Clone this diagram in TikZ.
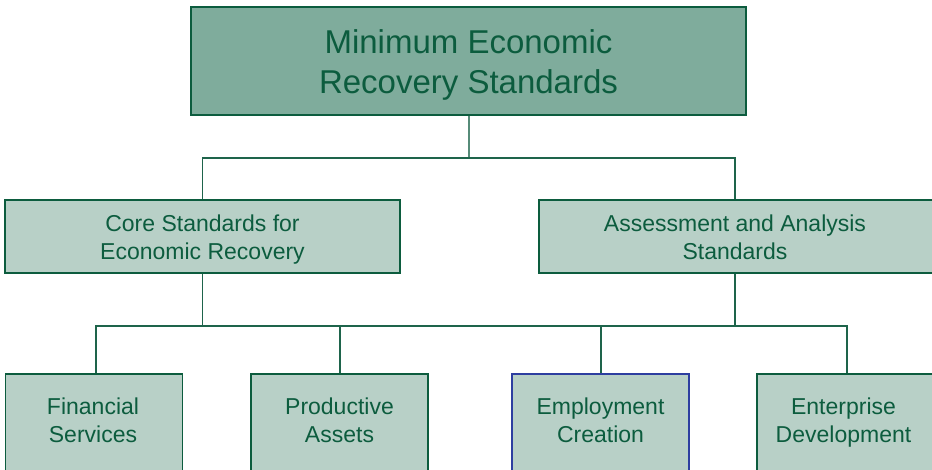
\documentclass[tikz,border=0pt]{standalone}
\usepackage{fontspec}
\setmainfont{Liberation Sans}
\definecolor{dkgreen}{RGB}{12,92,62}
\definecolor{linegreen}{RGB}{30,100,75}
\definecolor{topfill}{RGB}{127,172,156}
\definecolor{boxfill}{RGB}{184,208,199}
\definecolor{bluebord}{RGB}{45,62,160}
\begin{document}
\begin{tikzpicture}[x=1pt,y=-1pt,
  topbox/.style={draw=dkgreen,line width=1.8pt,fill=topfill,
    minimum width=555pt,minimum height=108pt,inner sep=0pt},
  midbox/.style={draw=dkgreen,line width=1.3pt,fill=boxfill,
    minimum height=73pt,inner sep=0pt},
  lowbox/.style={draw=dkgreen,line width=1.3pt,fill=boxfill,
    minimum width=177pt,minimum height=100pt,inner sep=0pt},
  bigtxt/.style={text=dkgreen,inner sep=0pt,align=center,
    font=\fontsize{33}{40}\selectfont,
    execute at begin node=\vphantom{lp},execute at end node=\vphantom{lp}},
  smalltxt/.style={text=dkgreen,inner sep=0pt,align=center,
    font=\fontsize{23}{28}\selectfont,
    execute at begin node=\vphantom{lp},execute at end node=\vphantom{lp}},
  conn/.style={draw=linegreen,line width=1.2pt}]
\useasboundingbox (0,0) rectangle (932,469);
\clip (0,0) rectangle (932,469);
% boxes
\node[topbox] (top) at (468.5,61) {};
\node[midbox,minimum width=395pt] (core) at (202.5,236.5) {};
\node[midbox,minimum width=400pt] (assess) at (739,236.5) {};
\node[lowbox] (fin) at (94,424) {};
\node[lowbox] (prod) at (339.5,424) {};
\node[lowbox,draw=bluebord] (emp) at (600.5,424) {};
\node[lowbox,minimum width=180pt] (ent) at (847,424) {};
% texts
\node[bigtxt] (toptxt) at ([yshift=-3.5pt]top.center) {Minimum Economic\\Recovery Standards};
\node[smalltxt] (coretxt) at ([yshift=-2.7pt]core.center) {Core Standards for\\Economic Recovery};
\node[smalltxt] (assesstxt) at ([xshift=-4pt,yshift=-2.7pt]assess.center) {Assessment and Analysis\\Standards};
\node[smalltxt] (fintxt) at ([xshift=-1pt,yshift=1pt]fin.center) {Financial\\Services};
\node[smalltxt] (prodtxt) at ([yshift=1pt]prod.center) {Productive\\Assets};
\node[smalltxt] (emptxt) at ([yshift=1pt]emp.center) {Employment\\Creation};
\node[smalltxt] (enttxt) at ([xshift=-3.5pt,yshift=1pt]ent.center) {Enterprise\\Development};
% connectors
\coordinate (b1) at (469,158);
\coordinate (b2) at (202.5,326);
\draw[conn,draw=linegreen!75!white] (top.south -| b1) -- (b1);
\draw[conn] (core.north) |- (b1);
\draw[conn] (b1) -| ([xshift=-4pt]assess.north);
\draw[conn] (core.south) -- (b2);
\draw[conn] ([xshift=-4pt]assess.south) -- ([xshift=-4pt]assess.south |- b2);
\draw[conn] ([xshift=2pt]fin.north) |- (b2);
\draw[conn] (b2) -| (ent.north);
\draw[conn] ([xshift=0.5pt]prod.north) -- ([xshift=0.5pt]prod.north |- b2);
\draw[conn] ([xshift=0.5pt]emp.north) -- ([xshift=0.5pt]emp.north |- b2);
\end{tikzpicture}
\end{document}
